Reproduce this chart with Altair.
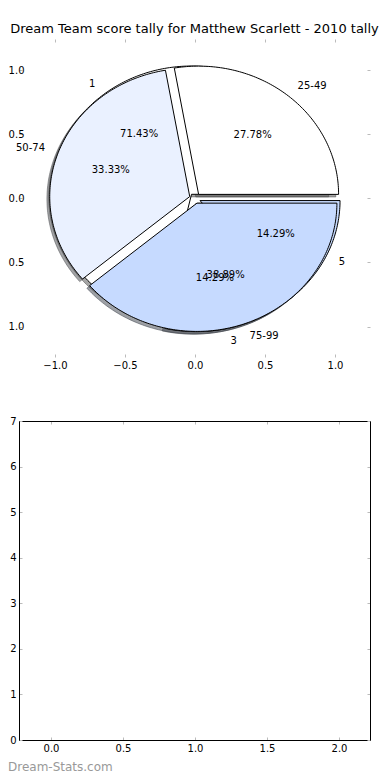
import math
import altair as alt
import numpy as np
import pandas as pd

TITLE = "Dream Team score tally for Matthew Scarlett - 2010 tally"
WATERMARK = "Dream-Stats.com"

# pie drawn on top: score bands
band_labels = ["25-49", "50-74", "75-99"]
band_counts = [5, 6, 7]
# pie drawn underneath
games_labels = ["1", "3", "5"]
games_counts = [5, 1, 1]
slice_colors = ["#ffffff", "#eaf1ff", "#c6daff"]

pie_ticks = [-1.0, -0.5, 0.0, 0.5, 1.0]
lower_x_ticks = [0.0, 0.5, 1.0, 1.5, 2.0]
lower_y_ticks = [0, 1, 2, 3, 4, 5, 6, 7]

EXPLODE = 0.04
SHADOW = -0.02
FONT = "DejaVu Sans"
TICK_GREY = "#bbbbbb"

W = 351
H = 701
TOP_H = 318
LOW_TOP = 382

pie_x_scale = alt.Scale(domain=[-1.2571, 1.25], range=[0, W], nice=False, zero=False)
pie_y_scale = alt.Scale(domain=[-1.237, 1.242], range=[TOP_H, 0], nice=False, zero=False)
low_x_scale = alt.Scale(domain=[-0.222, 2.215], range=[0, W], nice=False, zero=False)
low_y_scale = alt.Scale(domain=[0, 7], range=[H, LOW_TOP], nice=False, zero=False)


def shade(hexcol):
    r, g, b = (int(hexcol[i:i + 2], 16) for i in (1, 3, 5))
    return "#%02x%02x%02x" % tuple(int(round(0.3 * v)) for v in (r, g, b))


def ax(orient, offset, values, labels=False, fmt=None, domain=False, ticks=True, pad=3):
    kw = dict(orient=orient, offset=offset, values=values, title=None, grid=False,
              labels=labels, domain=domain, ticks=ticks, tickSize=3 if ticks else 0,
              tickColor=TICK_GREY, tickWidth=1, domainColor="black", domainWidth=1,
              labelPadding=pad, labelFont=FONT, labelFontSize=10, labelColor="black",
              labelOverlap=False, labelFlush=False)
    if fmt:
        kw["format"] = fmt
    return alt.Axis(**kw)


def pie_geometry(labels, counts):
    total = float(sum(counts))
    wedges = []
    start = 0.0
    for i, (lab, c) in enumerate(zip(labels, counts)):
        frac = c / total
        t1, t2 = 360.0 * start, 360.0 * (start + frac)
        start += frac
        mid = math.radians((t1 + t2) / 2)
        cx, cy = EXPLODE * math.cos(mid), EXPLODE * math.sin(mid)
        pts = [(cx, cy)]
        n = max(3, int(abs(t2 - t1)) + 1)
        for a in np.linspace(t1, t2, n):
            r = math.radians(a)
            pts.append((cx + math.cos(r), cy + math.sin(r)))
        pts.append((cx, cy))
        poly = pd.DataFrame({"x": [p[0] for p in pts], "y": [p[1] for p in pts],
                             "i": list(range(len(pts)))})
        lx, ly = cx + 1.1 * math.cos(mid), cy + 1.1 * math.sin(mid)
        px, py = cx + 0.6 * math.cos(mid), cy + 0.6 * math.sin(mid)
        wedges.append(dict(poly=poly, color=slice_colors[i % len(slice_colors)],
                           label=lab, lx=lx, ly=ly, align="left" if lx > 0 else "right",
                           pct="%.2f%%" % (100.0 * frac), px=px, py=py))
    return wedges


games = pie_geometry(games_labels, games_counts)
bands = pie_geometry(band_labels, band_counts)

pie_x_axis = ax("bottom", TOP_H - H, pie_ticks, labels=True, fmt=".1f", ticks=False, pad=3)
pie_y_axis = ax("left", 0, pie_ticks, labels=True, fmt=".1f", ticks=False, pad=-5)


def pie_enc(field_x="x", field_y="y"):
    return dict(x=alt.X(field_x + ":Q", scale=pie_x_scale, axis=pie_x_axis),
                y=alt.Y(field_y + ":Q", scale=pie_y_scale, axis=pie_y_axis))


pie_layers = []
for group in (games, bands):
    for w in group:
        sh = w["poly"].copy()
        sh["x"] = sh["x"] + SHADOW
        sh["y"] = sh["y"] + SHADOW
        sc = shade(w["color"])
        pie_layers.append(
            alt.Chart(sh).mark_line(filled=True, fill=sc, stroke=sc, fillOpacity=0.5,
                                    strokeOpacity=0.5, strokeWidth=1)
            .encode(order="i:Q", **pie_enc()))
for group in (games, bands):
    for w in group:
        pie_layers.append(
            alt.Chart(w["poly"]).mark_line(filled=True, fill=w["color"], stroke="black",
                                           strokeWidth=1)
            .encode(order="i:Q", **pie_enc()))

for group in (games, bands):
    lab_df = pd.DataFrame({"x": [w["lx"] for w in group], "y": [w["ly"] for w in group],
                           "text": [w["label"] for w in group],
                           "align": [w["align"] for w in group]})
    pct_df = pd.DataFrame({"x": [w["px"] for w in group], "y": [w["py"] for w in group],
                           "text": [w["pct"] for w in group]})
    for al in ("left", "right"):
        sub = lab_df[lab_df["align"] == al]
        if len(sub):
            pie_layers.append(
                alt.Chart(sub).mark_text(align=al, baseline="middle", font=FONT,
                                         fontSize=10, color="black")
                .encode(text="text:N", **pie_enc()))
    pie_layers.append(
        alt.Chart(pct_df).mark_text(align="center", baseline="middle", font=FONT,
                                    fontSize=10, color="black")
        .encode(text="text:N", **pie_enc()))

pie_layers.append(
    alt.Chart(pd.DataFrame({"t": [TITLE]})).mark_text(
        align="center", baseline="alphabetic", font=FONT, fontSize=13, color="black")
    .encode(x=alt.value(175.5), y=alt.value(-6), text="t:N"))

top_main = alt.layer(*pie_layers)

pie_frame = pd.DataFrame({"x": [-1.2571, 1.25], "y": [-1.237, 1.242]})
top_ticks_a = alt.Chart(pie_frame).mark_point(opacity=0).encode(
    x=alt.X("x:Q", scale=pie_x_scale, axis=ax("top", -TOP_H, pie_ticks)),
    y=alt.Y("y:Q", scale=pie_y_scale, axis=ax("right", -W, pie_ticks)))
top_ticks_b = alt.Chart(pie_frame).mark_point(opacity=0).encode(
    x=alt.X("x:Q", scale=pie_x_scale, axis=ax("bottom", -H, pie_ticks)),
    y=alt.Y("y:Q", scale=pie_y_scale, axis=ax("left", -W, pie_ticks)))

low_frame = pd.DataFrame({"x": [-0.222, 2.215], "y": [0, 7]})
low_main = alt.layer(
    alt.Chart(low_frame).mark_point(opacity=0).encode(
        x=alt.X("x:Q", scale=low_x_scale,
                axis=ax("bottom", 0, lower_x_ticks, labels=True, fmt=".1f", domain=True,
                        ticks=False, pad=3)),
        y=alt.Y("y:Q", scale=low_y_scale,
                axis=ax("left", 0, lower_y_ticks, labels=True, fmt="d", domain=True,
                        ticks=False, pad=3))),
    alt.Chart(pd.DataFrame({"t": [WATERMARK]})).mark_text(
        align="left", baseline="alphabetic", font=FONT, fontSize=12, color="#999999")
    .encode(x=alt.value(-11), y=alt.value(732), text="t:N"),
)
low_ticks_a = alt.Chart(low_frame).mark_point(opacity=0).encode(
    x=alt.X("x:Q", scale=low_x_scale, axis=ax("top", -H, lower_x_ticks, domain=True)),
    y=alt.Y("y:Q", scale=low_y_scale, axis=ax("right", -W, lower_y_ticks, domain=True)))
low_ticks_b = alt.Chart(low_frame).mark_point(opacity=0).encode(
    x=alt.X("x:Q", scale=low_x_scale,
            axis=ax("bottom", LOW_TOP - H, lower_x_ticks, domain=True)),
    y=alt.Y("y:Q", scale=low_y_scale, axis=ax("left", -W, lower_y_ticks, domain=True)))

chart = alt.layer(top_ticks_a, top_ticks_b, top_main, low_main, low_ticks_a, low_ticks_b).resolve_scale(
    x="independent", y="independent"
).properties(
    width=W, height=H,
    autosize=alt.AutoSizeParams(type="none"),
    padding={"left": 11, "top": 31, "right": 10, "bottom": 32},
    background="white",
).configure_view(stroke=None)

chart.save("out.html", embed_options={"renderer": "svg", "actions": False})
